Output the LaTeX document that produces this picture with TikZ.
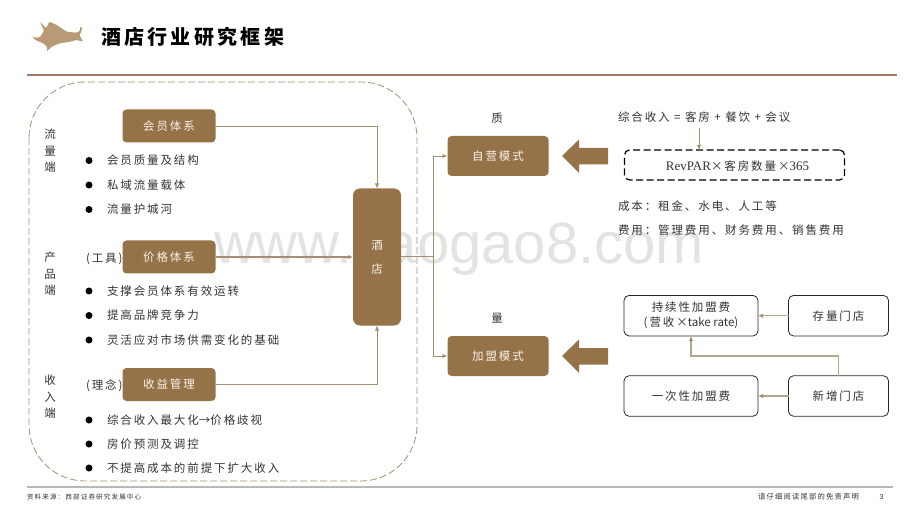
\documentclass[tikz,border=0pt]{standalone}
\usepackage{fontspec}
\setmainfont{Noto Sans CJK SC}[LetterSpace=16.5]
\newfontfamily\plainf{Noto Sans CJK SC}
\newfontfamily\latinf{Liberation Serif}
\newfontfamily\wmf{Liberation Sans}
\usetikzlibrary{arrows.meta}
\definecolor{brownb}{HTML}{967248}
\definecolor{linec}{HTML}{A68E70}
\definecolor{linel}{HTML}{B5A68F}
\definecolor{txt}{HTML}{333333}
\definecolor{rulered}{HTML}{A0776A}
\definecolor{rulegray}{HTML}{B8B8B8}
\definecolor{logoc}{HTML}{B89B76}
\newcommand{\dn}[1]{\raisebox{-1.8pt}{#1}}
\tikzset{
  x=1pt,y=-1pt,
  every node/.style={inner sep=0pt,outer sep=0pt,text=txt,font=\fontsize{11.5}{13.5}\selectfont},
  bbox/.style={fill=brownb,rounded corners=4pt,minimum height=33pt,minimum width=93pt,text=white!90!brown},
  obox/.style={draw=black!85,line width=0.8pt,fill=white,rounded corners=5pt,minimum width=100pt,minimum height=40.5pt,align=center},
  link/.style={draw=linec,line width=0.9pt,-{Latex[length=5pt,width=4.5pt]}},
  link2/.style={draw=linel,line width=1.2pt,-{Latex[length=5pt,width=4.5pt,color=linec]}},
  bullet/.style={circle,fill=black,minimum size=7pt},
  item/.style={anchor=west},
  side/.style={align=center,font=\fontsize{11.5}{16.5}\selectfont},
  bigarrow/.style={fill=brownb,draw=none},
}
\begin{document}
\begin{tikzpicture}
\useasboundingbox (0,0) rectangle (920,518);
% watermark
\node[anchor=base west,text=black!11,font={\wmf\fontsize{58}{60}\selectfont}] (wm) at (214,264) {www.baogao8.com};
% logo
\fill[logoc,rounded corners=1pt] (49.3,21.7) -- (56.7,25) -- (66.7,31.7) -- (76.7,32.7) -- (80,30.7) -- (80,26.7) -- (82.3,27.3) -- (81,32.7) -- (79.3,35) -- (83.3,41.7) -- (76.7,40) -- (70,41.7) -- (60,43.3) -- (51.7,46.7) -- (46.7,51.7) -- (47.3,47.3) -- (43.3,43.3) -- (35,40) -- (30.7,34) -- (33.3,37.3) -- (40,37.3) -- (44,30.7) -- (40,21.7) -- (46,28.3) -- cycle;
\node[anchor=west,font=\fontsize{20}{22}\selectfont\bfseries,text=black] (title) at (101,37) {酒店行业研究框架};
\draw[rulered,line width=2pt] (27,75) -- (897,75);
\draw[rulegray,line width=2pt] (27,487) -- (893,487);
% dashed frame
\draw[linec,line width=0.8pt,dash pattern=on 7pt off 3pt,rounded corners=56pt] (29,82) rectangle (417,481);
% left boxes
\node[bbox] (hy) at (169,126) {\dn{会员体系}};
\node[bbox] (jg) at (169,257) {\dn{价格体系}};
\node[bbox] (sy) at (169,384.5) {\dn{收益管理}};
\node[fill=brownb,rounded corners=7pt,minimum width=48pt,minimum height=137pt,align=center,text=white!90!brown,font=\fontsize{11.5}{24}\selectfont] (jd) at (377,257) {\dn{酒}\\\dn{店}};
\node[side] (s1) at (50,151) {流\\量\\端};
\node[side] (s2) at (50,274) {产\\品\\端};
\node[side] (s3) at (50,397) {收\\入\\端};
\node[anchor=east] (gj) at (122.5,259) {(工具)};
\node[anchor=east] (ln) at (122.5,386) {(理念)};
\foreach \y/\t/\n in {160.5/会员质量及结构/a,185/私域流量载体/b,209.5/流量护城河/c,291/支撑会员体系有效运转/d,315.5/提高品牌竞争力/e,340/灵活应对市场供需变化的基础/f,420/综合收入最大化{\plainf →}价格歧视/g,444/房价预测及调控/h,468/不提高成本的前提下扩大收入/i}{
  \node[bullet] (bu\n) at (89,\y) {};
  \node[item] (it\n) at (107,\y) {\t};
}
% right
\node[bbox,minimum width=101pt,minimum height=40pt] (zy) at (498,156) {\dn{自营模式}};
\node[bbox,minimum width=101pt,minimum height=40pt] (jm) at (498,356) {\dn{加盟模式}};
\node (zl) at (497,118) {质};
\node (ll) at (497,318) {量};
\coordinate (jun) at (433,256);
\draw[link] (hy.east) -| (jd.north);
\draw[link,line width=1.2pt] (jg.east) -- (jg.east -| jd.west);
\draw[link] (sy.east) -| (jd.south);
\draw[linec,line width=0.9pt] (jd.east |- jun) -- (jun);
\draw[link] (jun) |- (zy.west);
\draw[link] (jun) |- (jm.west);
\fill[bigarrow] (562,156) -- (579,139.5) -- (579,148) -- (608,148) -- (608,164.5) -- (579,164.5) -- (579,173) -- cycle;
\fill[bigarrow] (562,356) -- (579,339.5) -- (579,348) -- (608,348) -- (608,364.5) -- (579,364.5) -- (579,373) -- cycle;
\node[anchor=west] (zh) at (618,117) {综合收入 = 客房 + 餐饮 + 会议};
\node[draw=black,line width=1.2pt,dash pattern=on 7pt off 3.5pt,rounded corners=5pt,minimum width=220pt,minimum height=30pt] (rp) at (734.5,165) {};
\node (rpt) at (737.5,166) {{\latinf\fontsize{13}{14}\selectfont RevPAR}×客房数量×{\latinf\fontsize{13}{14}\selectfont 365}};
\coordinate (zhd) at (699,128);
\draw[link] (zhd) -- (rp.north -| zhd);
\node[anchor=west] (cb) at (618,206) {成本：租金、水电、人工等};
\node[anchor=west] (fy) at (618,230) {费用：管理费用、财务费用、销售费用};
\node[obox,minimum width=134pt,font=\fontsize{11.5}{15}\selectfont] (cx) at (691,315.7) {持续性加盟费\\(营收×{\plainf take rate})};
\node[obox] (cl) at (838.5,315.7) {\dn{存量门店}};
\node[obox,minimum width=134pt] (yc) at (691,396) {\dn{一次性加盟费}};
\node[obox] (xz) at (838.5,396) {\dn{新增门店}};
\draw[link2] (cl.west) -- (cx.east);
\draw[link2] (xz.west) -- (yc.east);
\coordinate (mid) at (838.5,356);
\draw[link2] (xz.north) -- (mid) -| (cx.south);
% footer
\node[anchor=west,font=\fontsize{6.6}{8}\selectfont] (src) at (27,497) {资料来源：西部证券研究发展中心};
\node[anchor=east,font=\fontsize{7.3}{8}\selectfont] (dis) at (859,497) {请仔细阅读尾部的免责声明};
\node[font={\wmf\fontsize{7}{8}\selectfont},text=black!80] (pg) at (881.5,497) {3};
\end{tikzpicture}
\end{document}
